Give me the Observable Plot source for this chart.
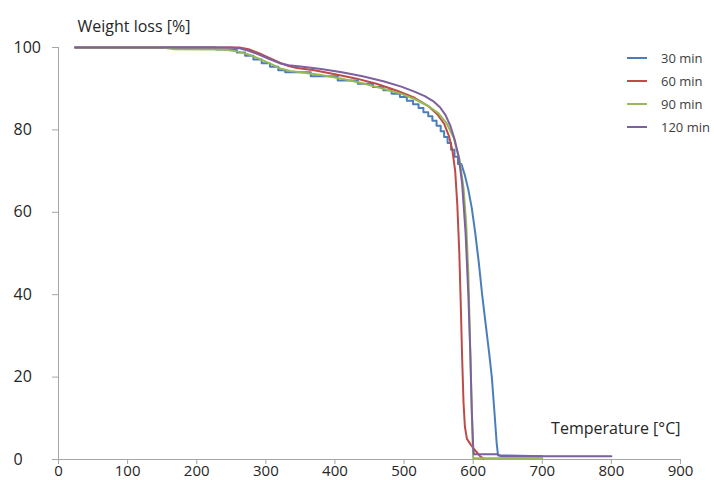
<!DOCTYPE html>
<html><head><meta charset="utf-8">
<script src="https://cdn.jsdelivr.net/npm/d3@7"></script>
<script src="https://cdn.jsdelivr.net/npm/@observablehq/plot@0.6"></script>
<style>
body{margin:0;background:#fff;}
#wrap{position:relative;width:714px;height:480px;font-family:"Open Sans",sans-serif;}
.legend{position:absolute;left:627px;top:46px;font-size:13px;color:#404040;white-space:nowrap;}
.legend .row{display:flex;align-items:center;height:23px;}
.legend .sw{width:20px;height:2px;margin-right:14px;flex:none;}
</style></head>
<body><div id="wrap"></div>
<script>
const series = ["30 min", "60 min", "90 min", "120 min"];
const colors = ["#4a7ebb", "#be4b48", "#98b954", "#7d60a0"];
const xTicks = [0, 100, 200, 300, 400, 500, 600, 700, 800, 900];
const yTicks = [0, 20, 40, 60, 80, 100];

// 30 min (stepped record)
const t30 = [24,228,228,258,258,270,270,282,282,294,294,306,306,318,318,328,328,365,365,404,404,433,433,455,455,470,470,482,482,494,494,504,504,513,513,521,521,528,528,535,535,541,541,547,547,553,553,558,558,563,563,568,568,573,573,578,578,583,588,593,598,603,608,613,618,623,627,631,634,636,700];
const w30 = [100,100,99.5,99.5,98.8,98.8,98.0,98.0,97.1,97.1,96.2,96.2,95.3,95.3,94.5,94.5,94.0,94.0,93.0,93.0,92.0,92.0,91.2,91.2,90.4,90.4,89.6,89.6,88.8,88.8,88.0,88.0,87.1,87.1,86.2,86.2,85.3,85.3,84.3,84.3,83.3,83.3,82.2,82.2,81.0,81.0,79.7,79.7,78.3,78.3,76.8,76.8,75.2,75.2,73.5,73.5,71.7,71.7,69,65.5,61,55,48,40,33,26,20,11,4,1,0.8];

// 60 min
const t60 = [24,255,262,275,290,305,320,333,345,370,400,430,460,490,515,535,548,558,565,570,574,577,580,582,584,586,588,591,597,604,610,615];
const w60 = [100,100,100,99.6,98.6,97.5,96.3,95.5,95.0,94.5,93.5,92.5,91.2,89.5,87.8,85.8,83.8,81.5,78.5,75,70,62,50,38,25,14,8,5,3.5,2,0.8,0.2];

// 90 min
const t90 = [24,150,168,240,260,275,290,305,320,335,350,380,410,440,470,495,515,535,550,562,572,580,586,590,593,595,597,599,600,700];
const w90 = [100,100,99.6,99.5,99.0,98.3,97.3,96.2,95.0,94.3,94.0,93.3,92.4,91.3,90.0,88.8,87.5,85.8,84,81.5,78,73,66,57,45,32,18,6,0.3,0.3];

// 120 min
const t120 = [24,250,262,275,290,305,320,333,350,380,410,440,470,496,515,530,542,552,560,567,573,579,584,589,593,596,598,600,601,635,640,800];
const w120 = [100,100,99.8,99.2,98.3,97.2,96.2,95.7,95.4,94.8,94.0,93.0,91.8,90.5,89.3,88.2,87.0,85.5,83.6,81.0,77.8,73.5,67,55,40,25,12,3,1.3,1.3,0.8,0.8];

const ts = [t30, t60, t90, t120], ws = [w30, w60, w90, w120];
const rows = series.flatMap((s, i) => ts[i].map((t, j) => ({series: s, T: t, W: ws[i][j]})));

const axisGrey = "#a6a6a6", textCol = "#262626";
const chart = Plot.plot({
  width: 714, height: 480,
  marginLeft: 58, marginRight: 34, marginTop: 47, marginBottom: 21,
  x: {domain: [0, 900]},
  y: {domain: [0, 100]},
  color: {domain: series, range: colors},
  style: {fontFamily: "'Open Sans', sans-serif", fontSize: "16px", background: "#fff"},
  marks: [
    Plot.ruleX([0], {stroke: axisGrey}),
    Plot.ruleY([0], {stroke: axisGrey}),
    Plot.axisX({ticks: xTicks, tickSize: 5, tickPadding: 1, stroke: axisGrey, fill: textCol, fontSize: 15, label: null}),
    Plot.axisY({ticks: yTicks, tickSize: 6, tickFormat: () => "", stroke: axisGrey, label: null}),
    Plot.text(yTicks, {y: d => d, text: d => String(d), frameAnchor: "left", dx: -45, textAnchor: "start", fill: textCol, fontSize: 16}),
    Plot.line(rows, {x: "T", y: "W", z: "series", stroke: "series", strokeWidth: 2}),
    Plot.text(["Weight loss [%]"], {frameAnchor: "top-left", dx: 19, dy: -27, textAnchor: "start", fill: textCol, fontSize: 16}),
    Plot.text(["Temperature [°C]"], {frameAnchor: "bottom-right", dx: 0, dy: -26, textAnchor: "end", fill: textCol, fontSize: 16})
  ]
});
const wrap = document.getElementById("wrap");
wrap.appendChild(chart);
const leg = document.createElement("div");
leg.className = "legend";
series.forEach((s, i) => {
  const r = document.createElement("div"); r.className = "row";
  const sw = document.createElement("div"); sw.className = "sw"; sw.style.background = colors[i];
  const tx = document.createElement("span"); tx.textContent = s;
  r.appendChild(sw); r.appendChild(tx); leg.appendChild(r);
});
wrap.appendChild(leg);
</script>
</body></html>
